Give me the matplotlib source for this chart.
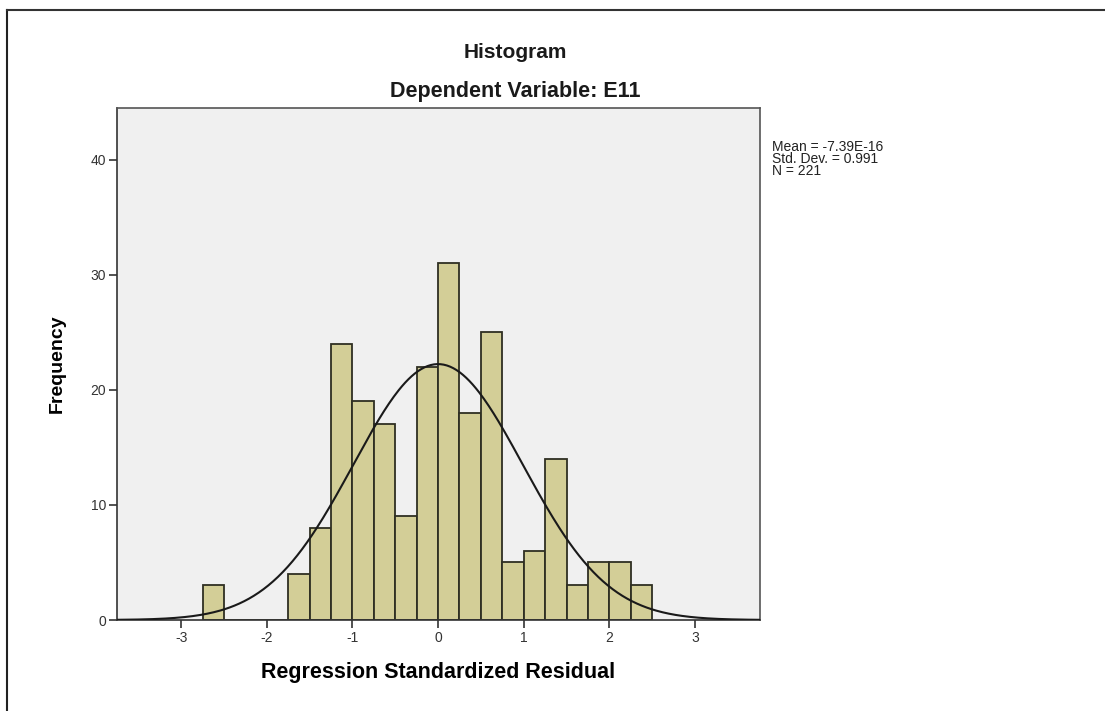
"""SPSS-style residual histogram with fitted normal curve."""
import matplotlib
matplotlib.use("Agg")
import matplotlib.pyplot as plt
import numpy as np
from matplotlib.lines import Line2D

plt.rcParams["font.family"] = ["Liberation Sans", "DejaVu Sans"]
plt.rcParams["axes.unicode_minus"] = False

# bins of width 0.25 starting at -2.75
bin_edges = [-2.75, -2.5, -2.25, -2.0, -1.75, -1.5, -1.25, -1.0, -0.75, -0.5, -0.25,
             0.0, 0.25, 0.5, 0.75, 1.0, 1.25, 1.5, 1.75, 2.0, 2.25, 2.5]
counts = [3, 0, 0, 0, 4, 8, 24, 19, 17, 9, 22, 31, 18, 25, 5, 6, 14, 3, 5, 5, 3]

mean_val = -7.39e-16
std_dev = 0.991
n_obs = 221

x_ticks = [-3, -2, -1, 0, 1, 2, 3]
y_ticks = [0, 10, 20, 30, 40]

fig = plt.figure(figsize=(11.05, 7.11), dpi=100)
ax = fig.add_axes([117 / 1105, 1 - 620 / 711, (760 - 117) / 1105, (620 - 108) / 711])
ax.set_facecolor("#f0f0f0")

edges = np.array(bin_edges)
widths = np.diff(edges)
ax.bar(edges[:-1], counts, width=widths, align="edge", color="#d3ce97",
       edgecolor="#2f2f22", linewidth=1.3, zorder=2)

# normal curve scaled to counts
bw = widths[0]
xs = np.linspace(-3.75, 3.75, 400)
ys = n_obs * bw * np.exp(-0.5 * ((xs - mean_val) / std_dev) ** 2) / (std_dev * np.sqrt(2 * np.pi))
ax.plot(xs, ys, color="#1a1a1a", linewidth=1.5, zorder=3)

ax.set_xlim(-3.75, 3.76)
ax.set_ylim(0, 44.5)
ax.set_xticks(x_ticks)
ax.set_yticks(y_ticks)
ax.tick_params(length=6, width=1.2, color="#333333", labelsize=10, labelcolor="#333333", pad=2)
for sp in ax.spines.values():
    sp.set_color("#555555")
    sp.set_linewidth(1.2)
ax.spines["left"].set_color("#333333")
ax.spines["bottom"].set_color("#333333")

ax.set_xlabel("Regression Standardized Residual", fontsize=15.5, fontweight="bold", labelpad=12)
ax.set_ylabel("Frequency", fontsize=14, fontweight="bold", labelpad=18)

fig.text(515 / 1105, 1 - 52 / 711, "Histogram", ha="center", va="center",
         fontsize=15, fontweight="bold", color="#1a1a1a")
fig.text(515 / 1105, 1 - 91 / 711, "Dependent Variable: E11", ha="center", va="center",
         fontsize=15.5, fontweight="bold", color="#1a1a1a")

fig.text(772 / 1105, 1 - 140 / 711,
         f"Mean = {mean_val:.2E}\nStd. Dev. = {std_dev}\nN = {n_obs}",
         ha="left", va="top", fontsize=10, linespacing=0.8, color="#222222")

# outer frame (top and left only)
fig.add_artist(Line2D([7 / 1105, 7 / 1105], [0, 1 - 10 / 711], transform=fig.transFigure,
                      color="#222222", linewidth=1.5))
fig.add_artist(Line2D([7 / 1105, 1], [1 - 10 / 711, 1 - 10 / 711], transform=fig.transFigure,
                      color="#333333", linewidth=1.5))

fig.savefig("out.png", dpi=100)
